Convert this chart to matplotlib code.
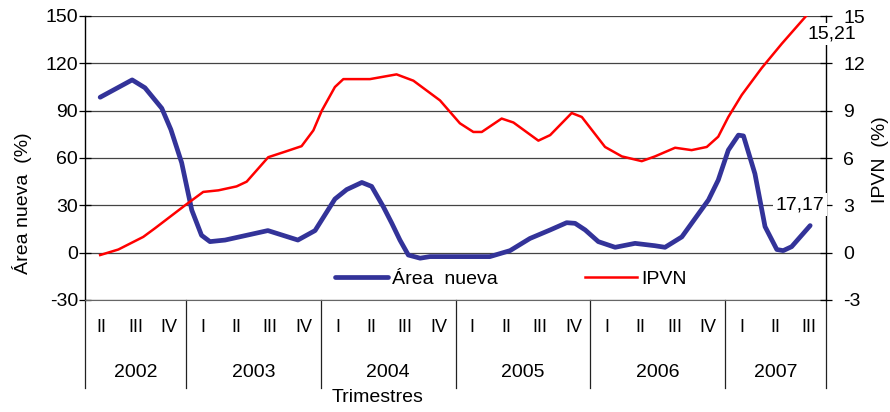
import matplotlib
matplotlib.use('Agg')
import matplotlib.pyplot as plt
import matplotlib.transforms as mtransforms

plt.rcParams['font.family'] = ['Liberation Sans', 'DejaVu Sans']
plt.rcParams['axes.unicode_minus'] = False

# periods on the x axis (quarters, 2002-II .. 2007-III)
anios = ['2002', '2003', '2004', '2005', '2006', '2007']
trimestres = [['II', 'III', 'IV'],
              ['I', 'II', 'III', 'IV'],
              ['I', 'II', 'III', 'IV'],
              ['I', 'II', 'III', 'IV'],
              ['I', 'II', 'III', 'IV'],
              ['I', 'II', 'III']]

# time in quarters counted from the start of 2002-II
t_area = [0.45, 1.40, 1.78, 2.28, 2.55, 2.87, 3.02, 3.17, 3.46, 3.71, 4.16,
          5.43, 6.32, 6.83, 7.42, 7.77, 8.22, 8.51, 8.86, 9.11, 9.35, 9.60,
          9.95, 10.24, 12.02, 12.62, 13.21, 13.81, 14.30, 14.55, 14.85, 15.24,
          15.74, 16.33, 16.92, 17.22, 17.72, 18.51, 18.80, 19.10, 19.40, 19.55,
          19.89, 20.19, 20.54, 20.73, 20.98, 21.53]
area = [98.5, 109.5, 104.5, 91.5, 78, 57, 42, 27, 11, 7, 8,
        14, 8, 14, 34, 40, 44.5, 42, 29, 18.6, 8, -1.5,
        -3.5, -2.5, -2.5, 1.3, 9, 14.4, 19, 18.6, 14.4, 7,
        3.4, 5.9, 4.4, 3.4, 10, 33.4, 46, 65, 74.5, 74,
        50, 16.5, 2, 1.3, 3.8, 17.17]

t_ipvn = [0.45, 0.99, 1.73, 2.08, 2.97, 3.51, 3.96, 4.50, 4.80, 5.44, 5.94,
          6.43, 6.78, 7.03, 7.42, 7.67, 8.46, 9.25, 9.75, 10.54, 11.13, 11.53,
          11.78, 12.37, 12.72, 13.46, 13.81, 14.45, 14.75, 15.44, 15.94, 16.53,
          16.92, 17.52, 18.01, 18.46, 18.80, 19.10, 19.50, 20.09, 20.69, 21.43,
          21.53]
ipvn = [-0.15, 0.2, 1.0, 1.55, 3.0, 3.85, 3.95, 4.2, 4.5, 6.05, 6.4,
        6.75, 7.75, 9.0, 10.5, 11.0, 11.0, 11.3, 10.9, 9.65, 8.2, 7.65,
        7.65, 8.5, 8.25, 7.1, 7.45, 8.85, 8.6, 6.7, 6.1, 5.8,
        6.1, 6.65, 6.5, 6.7, 7.35, 8.6, 10.0, 11.7, 13.25, 15.05,
        15.21]

azul = '#333399'
rojo = '#ff0000'
fs = 14

n_trim = sum(len(q) for q in trimestres)

fig = plt.figure(figsize=(8.9, 4.12), dpi=100)
ax = fig.add_axes([85 / 890, 1 - 300 / 412, 741 / 890, 284 / 412])
ax2 = ax.twinx()

ax.plot(t_area, area, color=azul, lw=3.4, solid_joinstyle='round',
        solid_capstyle='round', label='Área  nueva', zorder=3)
ax2.plot(t_ipvn, ipvn, color=rojo, lw=1.8, solid_joinstyle='round',
         label='IPVN', zorder=3)

ax.set_xlim(0, n_trim)
ax.set_ylim(-30, 150)
ax2.set_ylim(-3, 15)
ax.set_yticks(range(-30, 151, 30))
ax2.set_yticks(range(-3, 16, 3))
ax.set_xticks([])

ax.grid(axis='y', color='#444444', lw=0.9)
ax.set_axisbelow(True)
for a in (ax, ax2):
    a.spines['top'].set_visible(False)
ax.spines['right'].set_visible(False)
ax2.spines['left'].set_visible(False)
ax2.spines['bottom'].set_visible(False)
ax.spines['bottom'].set_color('#666666')
ax.spines['left'].set_linewidth(1.0)
ax2.spines['right'].set_linewidth(1.0)

ax.tick_params(axis='y', direction='inout', length=8, width=0.9, pad=1,
               labelsize=fs)
ax2.tick_params(axis='y', direction='inout', length=9, width=0.9, pad=8,
                labelsize=fs)

ax.set_ylabel('Área nueva  (%)', fontsize=fs)
ax2.set_ylabel('IPVN  (%)', fontsize=fs, rotation=90)
ax.yaxis.set_label_coords(-0.0715, 0.342)
ax2.yaxis.set_label_coords(1.062, 0.493)

# quarter / year labels under the plot
trans = mtransforms.blended_transform_factory(ax.transData, ax.transAxes)
pos = 0
ax.plot([0, 0], [0, -0.31], transform=trans, color='#222222', lw=0.9,
        clip_on=False)
for anio, qs in zip(anios, trimestres):
    for i, q in enumerate(qs):
        ax.text(pos + i + 0.5, -0.098, q, transform=trans, ha='center',
                va='center', fontsize=fs - 1)
    ax.text(pos + len(qs) / 2, -0.254, anio, transform=trans, ha='center',
            va='center', fontsize=fs)
    pos += len(qs)
    ax.plot([pos, pos], [0, -0.31], transform=trans, color='#222222',
            lw=0.9, clip_on=False)
ax.text(0.395, -0.345, 'Trimestres', transform=ax.transAxes, ha='center',
        va='center', fontsize=fs)

# end-of-series data labels
ax2.annotate(f'{ipvn[-1]:.2f}'.replace('.', ','), (t_ipvn[-1], 15),
             xytext=(22, -18), textcoords='offset pixels', ha='center',
             va='center', fontsize=fs, annotation_clip=False, zorder=10,
             bbox=dict(boxstyle='square,pad=0.15', fc='white', ec='none'))
ax2.annotate(f'{area[-1]:.2f}'.replace('.', ','), (t_area[-1], area[-1] / 10),
             xytext=(-10, 21), textcoords='offset pixels', ha='center',
             va='center', fontsize=fs, annotation_clip=False, zorder=10,
             bbox=dict(boxstyle='square,pad=0.15', fc='white', ec='none'))

h1, l1 = ax.get_legend_handles_labels()
h2, l2 = ax2.get_legend_handles_labels()
ax2.legend(h1 + h2, l1 + l2, loc='center', bbox_to_anchor=(0.575, 0.074),
           ncol=2, frameon=False, fontsize=fs, handlelength=2.7,
           handletextpad=0.2, columnspacing=4.5)

fig.savefig('out.png', dpi=100)
